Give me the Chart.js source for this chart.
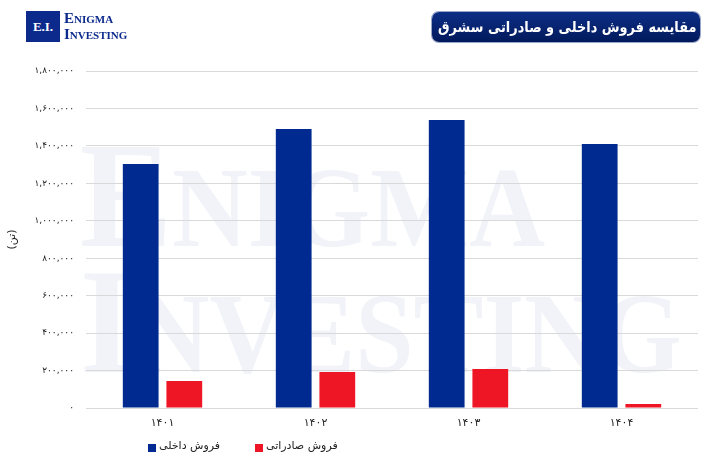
<!DOCTYPE html>
<html>
<head>
<meta charset="utf-8">
<script src="https://cdn.jsdelivr.net/npm/chart.js@4"></script>
<style>
  html, body { margin: 0; padding: 0; background: #fff; }
  #wrap { position: relative; width: 708px; height: 466px; overflow: hidden; }
  .wm { position: absolute; left: 80px; font-family: "Liberation Serif", serif; font-weight: bold; color: #f1f3f8; white-space: nowrap; line-height: 1; transform: scaleX(0.92); transform-origin: 0 0; }
  .big { font-size: 150px; }
  .sm { font-size: 114px; }
  canvas { position: absolute; left: 0; top: 0; }
  #logo { position: absolute; left: 26px; top: 11px; }
  #logo .box { position: absolute; left: 0; top: 0; width: 34px; height: 31px; background: #0b2a8c; color: #fff; font: bold 13px "Liberation Serif", serif; text-align: center; line-height: 31px; }
  #logo .txt { position: absolute; left: 38px; top: 0px; color: #0b2a8c; font: bold 11px "Liberation Serif", serif; line-height: 15px; white-space: nowrap; }
  #logo .txt b { font-size: 15px; }
  #title { position: absolute; left: 432px; top: 12px; width: 268px; height: 30px; border-radius: 7px; background: linear-gradient(#0d2e86, #021a5c); box-shadow: 0 0 0 1px #9aa6c8; color: #fff; font: bold 15px "DejaVu Sans", sans-serif; line-height: 30px; white-space: nowrap; }
  #title span { position: absolute; right: 4px; top: 0; direction: rtl; transform: scaleX(0.86); transform-origin: 100% 50%; }
  #legend { position: absolute; top: 439px; left: 148px; font: 11px "DejaVu Sans", sans-serif; color: #222; }
  #legend span.item { position: absolute; white-space: nowrap; }
  #legend i { position: absolute; width: 8px; height: 8px; top: 5px; }
</style>
</head>
<body>
<div id="wrap">
  <div class="wm" style="top:120px"><span class="big">E</span><span class="sm">NIGMA</span></div>
  <div class="wm" style="top:246px"><span class="big">I</span><span class="sm">NVESTING</span></div>
  <canvas id="myChart" width="708" height="466"></canvas>
  <div id="logo">
    <div class="box">E.I.</div>
    <div class="txt"><b>E</b>NIGMA<br><b>I</b>NVESTING</div>
  </div>
  <div id="title"><span>مقایسه فروش داخلی و صادراتی سشرق</span></div>
  <div id="legend"></div>
</div>
<script>
  'use strict'

  const years = ['1401', '1402', '1403', '1404']
  const domestic = [1303000, 1490000, 1538000, 1410000]
  const exports = [144000, 192000, 208000, 21000]
  const seriesNames = ['فروش داخلی', 'فروش صادراتی']
  const seriesColors = ['#002a8f', '#ee1524']
  const yMax = 1800000
  const yStep = 200000

  const faDigits = '۰۱۲۳۴۵۶۷۸۹'
  const toFa = (s) => String(s).replace(/[0-9]/g, d => faDigits[+d])

  const ctx = document.getElementById('myChart')
  // eslint-disable-next-line no-unused-vars
  const myChart = new Chart(ctx, {
    type: 'bar',
    data: {
      labels: years.map(toFa),
      datasets: [{
        label: seriesNames[0],
        data: domestic,
        backgroundColor: seriesColors[0],
        categoryPercentage: 0.57,
        barPercentage: 0.82
      }, {
        label: seriesNames[1],
        data: exports,
        backgroundColor: seriesColors[1],
        categoryPercentage: 0.57,
        barPercentage: 0.82
      }]
    },
    options: {
      responsive: false,
      animation: false,
      layout: { padding: { top: 71, right: 10, left: 6, bottom: 0 } },
      plugins: {
        legend: { display: false },
        tooltip: { enabled: false }
      },
      scales: {
        x: {
          grid: { display: false },
          border: { display: false },
          ticks: {
            color: '#222',
            padding: 1,
            font: { family: 'DejaVu Sans', size: 11 }
          },
          afterFit: (axis) => { axis.height = 58 }
        },
        y: {
          min: 0,
          max: yMax,
          border: { display: false },
          grid: { color: '#d9d9d9', drawTicks: false },
          title: {
            display: true,
            text: '(تن)',
            color: '#222',
            padding: { top: 0, bottom: 6 },
            font: { family: 'DejaVu Sans', size: 11 }
          },
          ticks: {
            stepSize: yStep,
            color: '#222',
            padding: 12,
            font: { family: 'DejaVu Sans', size: 9 },
            callback: (v) => toFa(v.toLocaleString('en-US'))
          },
          afterFit: (axis) => { axis.width = 80 }
        }
      }
    }
  })

  // legend
  const legend = document.getElementById('legend')
  const legendX = [0, 107]
  seriesNames.forEach((name, i) => {
    const item = document.createElement('span')
    item.className = 'item'
    item.style.left = legendX[i] + 'px'
    item.innerHTML = '<i style="left:0;background:' + seriesColors[i] + '"></i><span style="margin-left:11px">' + name + '</span>'
    legend.appendChild(item)
  })
</script>
</body>
</html>
